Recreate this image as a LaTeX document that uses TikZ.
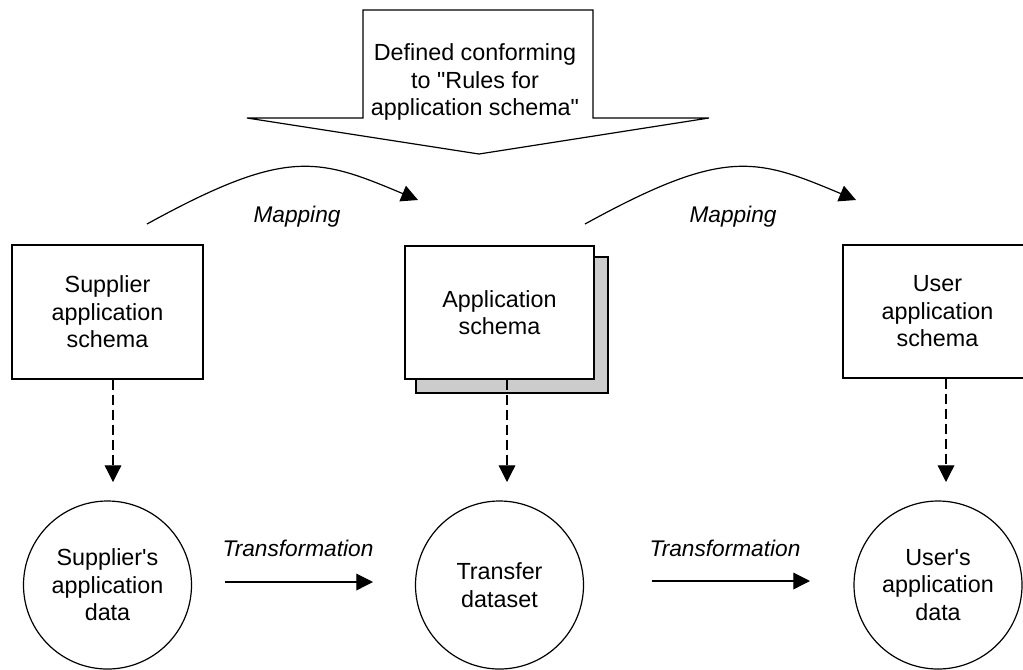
\documentclass[tikz,border=0pt]{standalone}
\usepackage{fontspec}
\setmainfont{Liberation Sans}
\usetikzlibrary{arrows.meta,calc}
\tikzset{
  txt/.style={font=\fontsize{17.5pt}{20.6pt}\selectfont, align=center},
  lbl/.style={font=\fontsize{17pt}{20pt}\selectfont\itshape, inner sep=0pt},
  boxnode/.style={draw, line width=0.9pt, fill=white, txt, inner sep=0pt},
  shadownode/.style={draw, line width=0.9pt, fill=black!20, inner sep=0pt},
  datanode/.style={draw, line width=0.9pt, circle, minimum size=126pt, inner sep=0pt, txt},
  tipstyle/.style={-{Triangle[length=12.5pt,width=12.5pt]}},
  dasharr/.style={tipstyle, line width=0.9pt, dash pattern=on 7.5pt off 3.75pt},
  solidarr/.style={tipstyle, line width=0.9pt},
  rulesshape/.style={draw, line width=0.9pt, line join=miter}
}
\begin{document}
\begin{tikzpicture}[x=0.75pt,y=-0.75pt]
\clip (0,0) rectangle (1023,669);
\fill[white] (0,0) rectangle (1023,669);

% top block arrow
\draw[rulesshape] (363,10) -- (593,10) -- (593,118) -- (709,118) -- (479,154)
  -- (247,118) -- (363,118) -- cycle;
\node[txt, inner sep=0pt] (rules) at (475,82) {Defined conforming\\to \textquotedbl Rules for\\application schema\textquotedbl};

% schema boxes
\node[boxnode, minimum width=143.25pt, minimum height=100.5pt] (sbox) at (107.5,312)
  {Supplier\\application\\schema};
\node[shadownode, minimum width=144pt, minimum height=102pt] (ashadow) at (512,325) {};
\node[boxnode, minimum width=141.75pt, minimum height=99.75pt] (abox) at (499.5,312.5)
  {Application\\schema};
\node[boxnode, minimum width=141.75pt, minimum height=99.75pt] (ubox) at (937.5,311.5)
  {User\\application\\schema};

% data circles
\node[datanode] (sdata) at (107.5,585) {Supplier\textquotesingle s\\application\\data};
\node[datanode] (tdata) at (499.5,585) {Transfer\\dataset};
\node[datanode] (udata) at (938,585) {User\textquotesingle s\\application\\data};

% dashed arrows
\coordinate (s1) at (113,482);
\coordinate (a1) at (507,482);
\coordinate (u1) at (946,482);
\draw[dasharr] (sbox.south -| s1) -- (s1);
\draw[dasharr] (abox.south -| a1) -- (a1);
\draw[dasharr] (ubox.south -| u1) -- (u1);

% transformation arrows
\coordinate (t1s) at (225,582);
\coordinate (t1e) at (373,582);
\coordinate (t2s) at (652,581);
\coordinate (t2e) at (810,581);
\draw[solidarr] (t1s) -- (t1e);
\draw[solidarr] (t2s) -- (t2e);
\node[lbl, anchor=base] (tl1) at (298,556) {Transformation};
\node[lbl, anchor=base] (tl2) at (725,556) {Transformation};

% mapping curves
\coordinate (m1s) at (147,224);
\coordinate (m1e) at (418,200);
\coordinate (m2s) at (585,224);
\coordinate (m2e) at (856,200);
\draw[solidarr] (m1s) .. controls (287,147) and (318,158) .. (m1e);
\draw[solidarr] (m2s) .. controls (725,147) and (756,158) .. (m2e);
\node[lbl, anchor=base] (ml1) at (297,222) {Mapping};
\node[lbl, anchor=base] (ml2) at (733,222) {Mapping};
\end{tikzpicture}
\end{document}
